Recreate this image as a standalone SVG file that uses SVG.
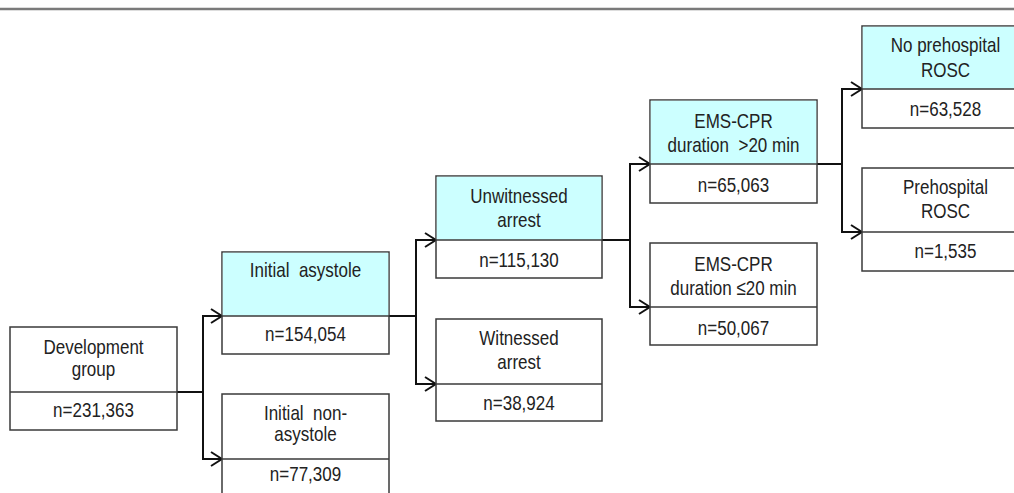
<svg xmlns="http://www.w3.org/2000/svg" width="1014" height="493" viewBox="0 0 1014 493">
  <style>
    .box { fill: #ffffff; stroke: #3a3a3a; stroke-width: 1.5; }
    .hl { fill: #ccffff; }
    .div { stroke: #3a3a3a; stroke-width: 1.5; }
    .t { font-family: "Liberation Sans", Arial, sans-serif; font-size: 21px; fill: #222222; text-anchor: middle; white-space: pre; }
    .conn { fill: none; stroke: #111111; stroke-width: 2; }
  </style>
  <defs>
    <marker id="arrow" markerUnits="userSpaceOnUse" viewBox="0 0 13 16" refX="12" refY="8" markerWidth="13" markerHeight="16" orient="auto">
      <path d="M1,1 L12,8 L1,15" fill="none" stroke="#111111" stroke-width="2"/>
    </marker>
  </defs>

  <rect width="1014" height="493" fill="#ffffff"/>
  <line x1="0" y1="9" x2="1014" y2="9" stroke="#7a7a7a" stroke-width="2.5"/>

  <!-- connectors -->
  <g id="connectors">
    <path class="conn" d="M177,392 H203 V316 H222" marker-end="url(#arrow)"/>
    <path class="conn" d="M203,392 V459 H222" marker-end="url(#arrow)"/>
    <path class="conn" d="M389,316 H416 V240 H436" marker-end="url(#arrow)"/>
    <path class="conn" d="M416,316 V384 H436" marker-end="url(#arrow)"/>
    <path class="conn" d="M602,240 H630 V164 H650" marker-end="url(#arrow)"/>
    <path class="conn" d="M630,240 V307 H650" marker-end="url(#arrow)"/>
    <path class="conn" d="M817,164 H842 V89 H862" marker-end="url(#arrow)"/>
    <path class="conn" d="M842,164 V232 H862" marker-end="url(#arrow)"/>
  </g>

  <g id="development-group">
    <rect class="box" x="10" y="327" width="167" height="103"/>
    <line class="div" x1="10" y1="392" x2="177" y2="392"/>
    <text class="t" transform="translate(93.5,354) scale(0.81,1)">Development</text>
    <text class="t" transform="translate(93.5,376) scale(0.81,1)">group</text>
    <text class="t" transform="translate(93.5,417) scale(0.81,1)">n=231,363</text>
  </g>

  <g id="initial-asystole">
    <rect class="box" x="222" y="252" width="167" height="102"/>
    <rect class="hl" x="222.75" y="252.75" width="165.5" height="63"/>
    <line class="div" x1="222" y1="316" x2="389" y2="316"/>
    <text class="t" xml:space="preserve" transform="translate(305.5,277) scale(0.81,1)">Initial  asystole</text>
    <text class="t" transform="translate(305.5,341) scale(0.81,1)">n=154,054</text>
  </g>

  <g id="initial-non-asystole">
    <rect class="box" x="222" y="394" width="167" height="110"/>
    <line class="div" x1="222" y1="459" x2="389" y2="459"/>
    <text class="t" xml:space="preserve" transform="translate(305.5,420) scale(0.81,1)">Initial  non-</text>
    <text class="t" transform="translate(305.5,441) scale(0.81,1)">asystole</text>
    <text class="t" transform="translate(305.5,481) scale(0.81,1)">n=77,309</text>
  </g>

  <g id="unwitnessed-arrest">
    <rect class="box" x="436" y="176" width="166" height="102"/>
    <rect class="hl" x="436.75" y="176.75" width="164.5" height="63"/>
    <line class="div" x1="436" y1="240" x2="602" y2="240"/>
    <text class="t" transform="translate(519,203) scale(0.81,1)">Unwitnessed</text>
    <text class="t" transform="translate(519,227) scale(0.81,1)">arrest</text>
    <text class="t" transform="translate(519,267) scale(0.81,1)">n=115,130</text>
  </g>

  <g id="witnessed-arrest">
    <rect class="box" x="436" y="319" width="166" height="102"/>
    <line class="div" x1="436" y1="384" x2="602" y2="384"/>
    <text class="t" transform="translate(519,345) scale(0.81,1)">Witnessed</text>
    <text class="t" transform="translate(519,369) scale(0.81,1)">arrest</text>
    <text class="t" transform="translate(519,410) scale(0.81,1)">n=38,924</text>
  </g>

  <g id="cpr-over-20">
    <rect class="box" x="650" y="100" width="167" height="103"/>
    <rect class="hl" x="650.75" y="100.75" width="165.5" height="63"/>
    <line class="div" x1="650" y1="164" x2="817" y2="164"/>
    <text class="t" transform="translate(733.5,128) scale(0.81,1)">EMS-CPR</text>
    <text class="t" xml:space="preserve" transform="translate(733.5,152) scale(0.81,1)">duration  &gt;20 min</text>
    <text class="t" transform="translate(733.5,192) scale(0.81,1)">n=65,063</text>
  </g>

  <g id="cpr-under-20">
    <rect class="box" x="650" y="243" width="167" height="102"/>
    <line class="div" x1="650" y1="307" x2="817" y2="307"/>
    <text class="t" transform="translate(733.5,271) scale(0.81,1)">EMS-CPR</text>
    <text class="t" transform="translate(733.5,295) scale(0.81,1)">duration ≤20 min</text>
    <text class="t" transform="translate(733.5,335) scale(0.81,1)">n=50,067</text>
  </g>

  <g id="no-prehospital-rosc">
    <rect class="box" x="862" y="26" width="167" height="102"/>
    <rect class="hl" x="862.75" y="26.75" width="165.5" height="62"/>
    <line class="div" x1="862" y1="89" x2="1029" y2="89"/>
    <text class="t" transform="translate(945.5,52) scale(0.81,1)">No prehospital</text>
    <text class="t" transform="translate(945.5,77) scale(0.81,1)">ROSC</text>
    <text class="t" transform="translate(945.5,116) scale(0.81,1)">n=63,528</text>
  </g>

  <g id="prehospital-rosc">
    <rect class="box" x="862" y="168" width="167" height="103"/>
    <line class="div" x1="862" y1="232" x2="1029" y2="232"/>
    <text class="t" transform="translate(945.5,194) scale(0.81,1)">Prehospital</text>
    <text class="t" transform="translate(945.5,218) scale(0.81,1)">ROSC</text>
    <text class="t" transform="translate(945.5,258) scale(0.81,1)">n=1,535</text>
  </g>
</svg>
